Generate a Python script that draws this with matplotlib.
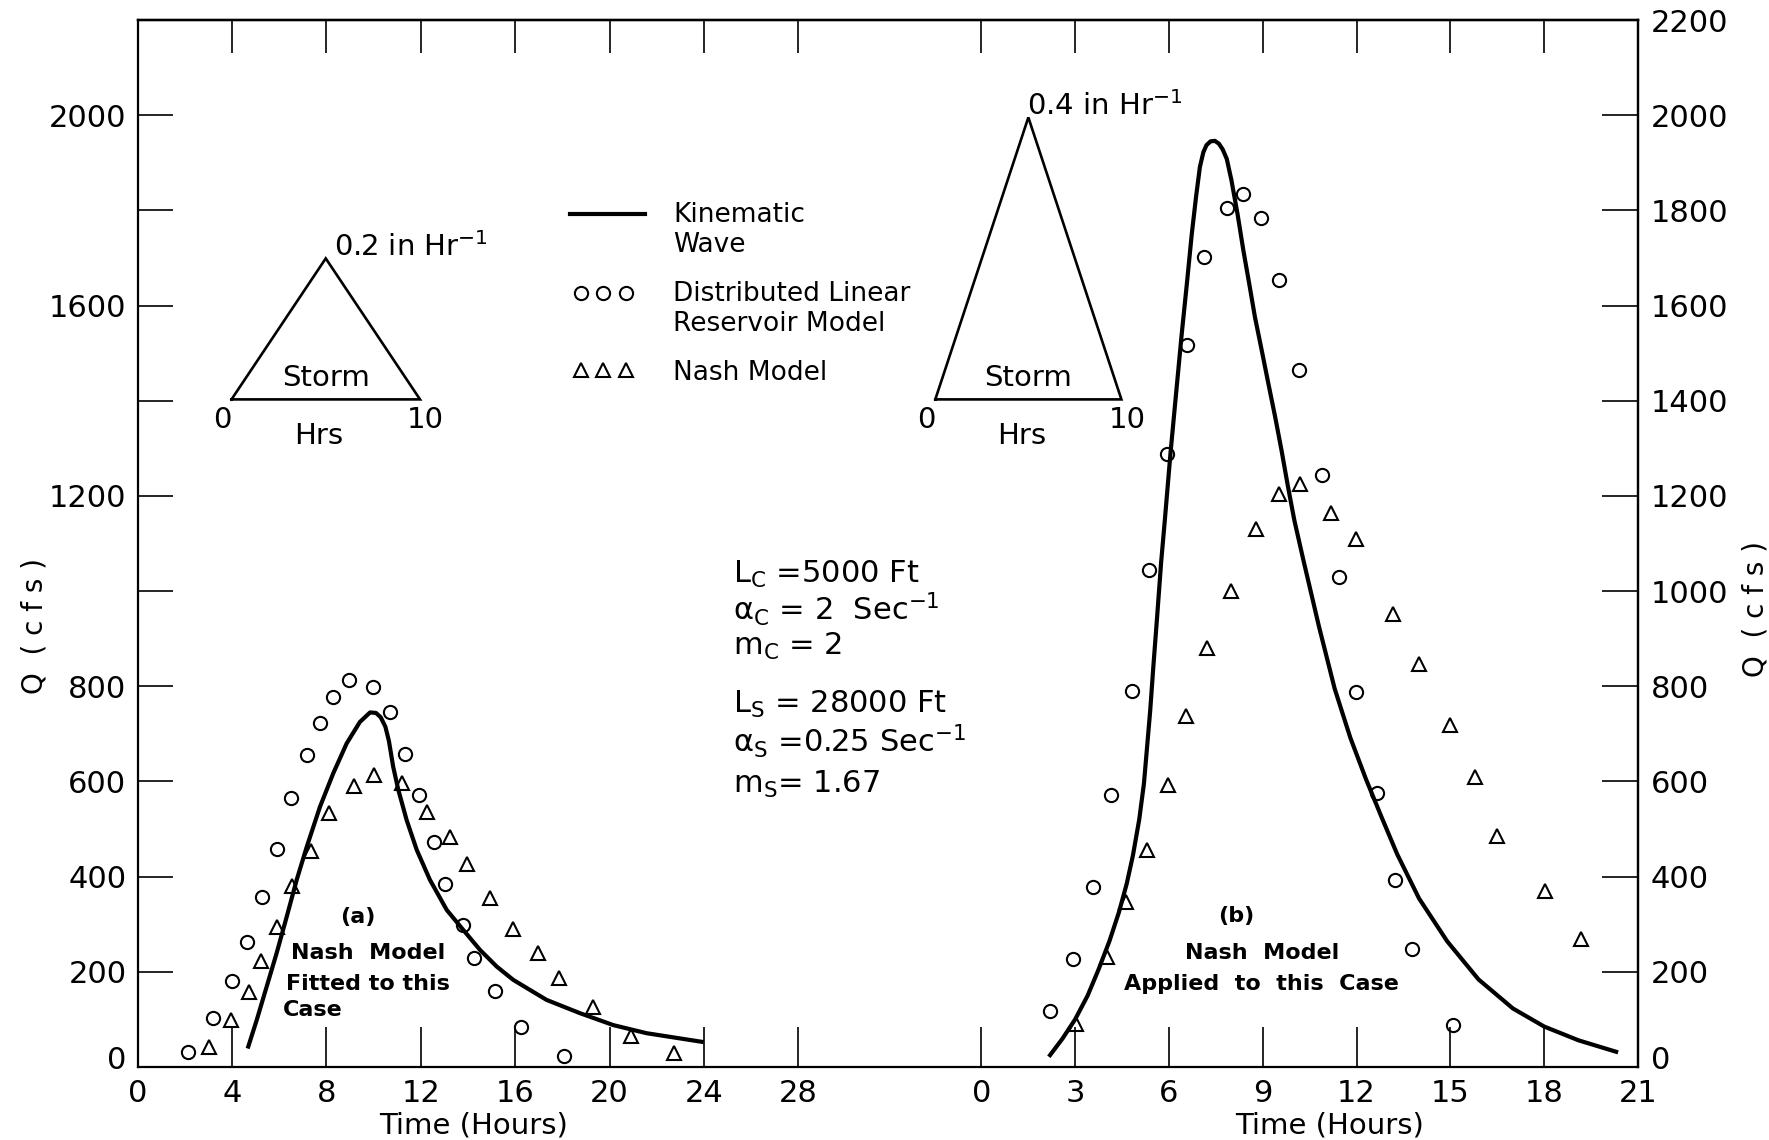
import matplotlib
matplotlib.use('Agg')
import numpy as np
import matplotlib.pyplot as plt
import matplotlib.transforms as mtransforms
from matplotlib.lines import Line2D
from matplotlib.legend_handler import HandlerLine2D

plt.rcParams['font.family'] = ['DejaVu Sans']
plt.rcParams['mathtext.fontset'] = 'dejavusans'

# ---------------- data : case (a)  (left time scale, hours) ----------------
t_kw_a = [4.69, 5.05, 5.47, 5.89, 6.32, 6.74, 7.17, 7.73, 8.29, 8.86, 9.42, 9.85,
          10.1, 10.3, 10.5, 10.65, 10.83, 11.05, 11.40, 11.83, 12.39, 13.10, 13.80,
          14.51, 15.22, 15.92, 17.33, 18.75, 20.16, 21.57, 23.90]
q_kw_a = [43, 99, 169, 239, 316, 393, 463, 547, 617, 680, 725, 745,
          744, 735, 715, 685, 631, 582, 519, 456, 393, 330, 288,
          246, 211, 183, 141, 113, 88, 71, 53]

t_dlr_a = [2.15, 3.21, 4.01, 4.65, 5.28, 5.89, 6.50, 7.18, 7.73, 8.27, 8.97,
           9.96, 10.69, 11.34, 11.91, 12.57, 13.03, 13.80, 14.25, 15.14, 16.23, 18.08]
q_dlr_a = [32, 102, 181, 263, 358, 459, 566, 655, 723, 778, 813,
           798, 746, 657, 571, 473, 384, 298, 228, 160, 85, 23]

t_nash_a = [3.04, 3.94, 4.73, 5.23, 5.89, 6.56, 7.33, 8.11, 9.16, 10.03, 11.19,
            12.26, 13.24, 13.97, 14.93, 15.92, 16.98, 17.87, 19.31, 20.89, 22.73]
q_nash_a = [41, 99, 158, 223, 295, 381, 454, 534, 590, 613, 596,
            536, 483, 426, 356, 291, 239, 186, 127, 65, 30]

# ---------------- data : case (b)  (right time scale, hours) ----------------
t_kw_b = [2.2, 2.6, 3.0, 3.4, 3.75, 4.1, 4.4, 4.65, 4.85, 5.05, 5.2, 5.4, 5.5,
          5.62, 5.75, 5.87, 6.05, 6.25, 6.41, 6.58, 6.73, 6.87, 6.99, 7.1, 7.2,
          7.33, 7.47, 7.6, 7.72, 7.85, 8.0, 8.2, 8.38, 8.57, 8.75, 8.97, 9.18,
          9.4, 9.6, 9.8, 10.01, 10.3, 10.8, 11.3, 11.8, 12.3, 12.8, 13.3, 14.0,
          14.9, 15.9, 17.0, 18.0, 19.1, 20.3]
q_kw_b = [25, 60, 100, 150, 205, 265, 325, 385, 445, 520, 595, 748, 840,
          944, 1060, 1150, 1290, 1430, 1541, 1650, 1750, 1830, 1891, 1922, 1937,
          1945, 1946, 1940, 1928, 1908, 1863, 1790, 1716, 1645, 1576, 1505, 1436,
          1365, 1296, 1222, 1149, 1065, 925, 795, 692, 605, 525, 447, 354,
          264, 184, 123, 85, 56, 32]

t_dlr_b = [2.19, 2.93, 3.58, 4.16, 4.83, 5.35, 5.95, 6.57, 7.12, 7.85, 8.36,
           8.94, 9.53, 10.17, 10.88, 11.43, 11.97, 12.66, 13.23, 13.78, 15.10]
q_dlr_b = [118, 227, 378, 571, 790, 1045, 1289, 1518, 1701, 1804, 1834,
           1783, 1653, 1464, 1244, 1029, 789, 576, 393, 247, 88]

t_nash_b = [3.02, 4.01, 4.63, 5.30, 5.98, 6.55, 7.21, 7.99, 8.78, 9.53, 10.19,
            11.19, 11.97, 13.15, 14.0, 15.0, 15.8, 16.5, 18.03, 19.18]
q_nash_b = [91, 232, 346, 457, 593, 737, 880, 1000, 1130, 1203, 1225,
            1165, 1109, 952, 846, 718, 609, 485, 370, 269]

# storm hyetographs (hours, in/hr)
storm_t = [0, 5, 10, 0]
storm_a = [0, 0.2, 0, 0]
storm_b = [0, 0.4, 0, 0]

q_ticks = list(range(0, 2201, 200))
q_left_labels = [0, 200, 400, 600, 800, 1200, 1600, 2000]
xa_ticks = list(range(0, 29, 4))
xb_ticks = list(range(0, 22, 3))

# ---------------- figure ----------------
W, H = 1769, 1140
fig = plt.figure(figsize=(W / 100, H / 100), dpi=100)
L, R, B, T = 137.6 / W, 1638 / W, 1 - 1067 / H, 1 - 20 / H
ax1 = fig.add_axes([L, B, R - L, T - B])
ax1.set_xlim(0, 63.58)
ax1.set_ylim(0, 2200)
ax2 = ax1.twiny()
ax2.set_xlim(-26.98, 21)

for sp in ax1.spines.values():
    sp.set_linewidth(1.6)
for sp in ax2.spines.values():
    sp.set_visible(False)

tick_kw = dict(direction='in', width=1.2, labelsize=22, colors='k')
ax1.set_xticks(xa_ticks)
ax1.tick_params(axis='x', length=29, pad=9, **tick_kw)
ax1.set_yticks(q_ticks)
ax1.set_yticklabels([str(v) if v in q_left_labels else '' for v in q_ticks])
ax1.tick_params(axis='y', length=25, pad=8, **tick_kw)

ax2.xaxis.set_ticks_position('bottom')
ax2.xaxis.set_label_position('bottom')
ax2.set_xticks(xb_ticks)
ax2.tick_params(axis='x', length=29, pad=9, **tick_kw)

sec_y = ax1.secondary_yaxis('right')
sec_y.set_yticks(q_ticks)
sec_y.tick_params(axis='y', length=26, pad=9, **tick_kw)
sec_y.spines['right'].set_linewidth(1.6)

# the "0" labels sit a little above the bottom frame line
lift = mtransforms.ScaledTranslation(0, 7 / 72, fig.dpi_scale_trans)
for tk in (ax1.yaxis.get_major_ticks()[0], sec_y.yaxis.get_major_ticks()[0]):
    for lab in (tk.label1, tk.label2):
        lab.set_transform(lab.get_transform() + lift)

top1 = ax1.secondary_xaxis('top')
top1.set_xticks(xa_ticks[1:])
top1.tick_params(axis='x', direction='in', length=24, width=1.2, labeltop=False)
top1.spines['top'].set_linewidth(1.6)
top2 = ax2.secondary_xaxis('top')
top2.set_xticks(xb_ticks[:-1])
top2.tick_params(axis='x', direction='in', length=24, width=1.2, labeltop=False)
top2.spines['top'].set_linewidth(1.6)

# ---------------- data marks ----------------
mk = dict(ls='none', mfc='none', mec='k', mew=1.5)
ax1.plot(t_kw_a, q_kw_a, color='k', lw=3.0, solid_joinstyle='round')
ax1.plot(t_dlr_a, q_dlr_a, marker='o', ms=9.5, **mk)
ax1.plot(t_nash_a, q_nash_a, marker='^', ms=10, **mk)

ax2.plot(t_kw_b, q_kw_b, color='k', lw=3.0, solid_joinstyle='round')
ax2.plot(t_dlr_b, q_dlr_b, marker='o', ms=9.5, **mk)
ax2.plot(t_nash_b, q_nash_b, marker='^', ms=10, **mk)

# ---------------- legend ----------------
class ShiftedHandler(HandlerLine2D):
    """Line2D legend handler whose key is lifted to the first text line."""
    def __init__(self, dy=0.0, dx=0.0, **kw):
        super().__init__(**kw)
        self.dy = dy
        self.dx = dx

    def create_artists(self, legend, orig_handle, xdescent, ydescent,
                       width, height, fontsize, trans):
        arts = super().create_artists(legend, orig_handle, xdescent, ydescent,
                                      width, height, fontsize, trans)
        for a in arts:
            a.set_ydata(np.asarray(a.get_ydata(), dtype=float) + self.dy)
            a.set_xdata(np.asarray(a.get_xdata(), dtype=float) + self.dx)
        return arts

h_kw = Line2D([], [], color='k', lw=3.0)
h_dlr = Line2D([], [], marker='o', ms=9.5, **mk)
h_nash = Line2D([], [], marker='^', ms=9.5, **mk)
labels = ['Kinematic\nWave', 'Distributed Linear\nReservoir Model', 'Nash Model']
ax2.legend([h_kw, h_dlr, h_nash], labels, loc='upper left',
           bbox_to_anchor=(0.288, 0.826),
           handler_map={h_kw: ShiftedHandler(dy=12, marker_pad=0.0, numpoints=2),
                        h_dlr: ShiftedHandler(dy=12, dx=-3, marker_pad=0.58, numpoints=3),
                        h_nash: ShiftedHandler(dy=0, dx=-3, marker_pad=0.58, numpoints=3)},
           frameon=False, fontsize=19, handlelength=2.86,
           handletextpad=1.05, labelspacing=0.86, borderaxespad=0, borderpad=0)

# ---------------- axis labels ----------------
ax1.text(-0.069, 0.421, 'Q  ( c f s )', rotation=90, transform=ax1.transAxes,
         ha='center', va='center', fontsize=20)
ax1.text(1.078, 0.437, 'Q  ( c f s )', rotation=90, transform=ax1.transAxes,
         ha='center', va='center', fontsize=20)
ax1.text(14.25, -0.0554, 'Time (Hours)', transform=ax1.get_xaxis_transform(),
         ha='center', va='center', fontsize=21)
ax2.text(11.14, -0.0554, 'Time (Hours)', transform=ax2.get_xaxis_transform(),
         ha='center', va='center', fontsize=21)

# ---------------- parameters ----------------
params = [(0.470, r'L$_\mathregular{C}$ =5000 Ft'),
          (0.437, r'α$_\mathregular{C}$ = 2  Sec$^\mathregular{-1}$'),
          (0.402, r'm$_\mathregular{C}$ = 2'),
          (0.346, r'L$_\mathregular{S}$ = 28000 Ft'),
          (0.311, r'α$_\mathregular{S}$ =0.25 Sec$^\mathregular{-1}$'),
          (0.270, r'm$_\mathregular{S}$= 1.67')]
for yy, s in params:
    ax1.text(0.397, yy, s, transform=ax1.transAxes, ha='left', va='center',
             fontsize=22)

# ---------------- case annotations ----------------
bold = dict(fontsize=16, fontweight='bold', va='center')
ax1.text(9.32, 315, '(a)', ha='center', **bold)
ax1.text(6.5, 239, 'Nash  Model', ha='left', **bold)
ax1.text(6.3, 175, 'Fitted to this', ha='left', **bold)
ax1.text(6.15, 120, 'Case', ha='left', **bold)
ax2.text(8.14, 317, '(b)', ha='center', **bold)
ax2.text(8.97, 239, 'Nash  Model', ha='center', **bold)
ax2.text(8.97, 175, 'Applied  to  this  Case', ha='center', **bold)

# ---------------- storm insets ----------------
def storm(x0_px, width_px, q, label, offset):
    ins = fig.add_axes([x0_px / W, 1 - 399.4 / H, width_px / W, 282 / H])
    ins.set_xlim(0, 10)
    ins.set_ylim(0, 0.4)
    ins.axis('off')
    ins.plot(storm_t, q, color='k', lw=1.9, clip_on=False, solid_joinstyle='miter')
    peak = max(q)
    ins.annotate(label, xy=(5, peak), xytext=offset, textcoords='offset points',
                 ha='left', va='center', fontsize=21, annotation_clip=False)
    ins.text(5, 0.03, 'Storm', ha='center', va='center', fontsize=21)
    ins.text(-0.5, -0.029, '0', ha='center', va='center', fontsize=21, clip_on=False)
    ins.text(10.3, -0.029, '10', ha='center', va='center', fontsize=21, clip_on=False)
    ins.text(4.65, -0.052, 'Hrs', ha='center', va='center', fontsize=21, clip_on=False)

storm(231.5, 188.5, storm_a, r'0.2 in Hr$^\mathregular{-1}$', (6, 8))
storm(935.3, 186.1, storm_b, r'0.4 in Hr$^\mathregular{-1}$', (-1, 8))

fig.savefig('out.png', dpi=100)
